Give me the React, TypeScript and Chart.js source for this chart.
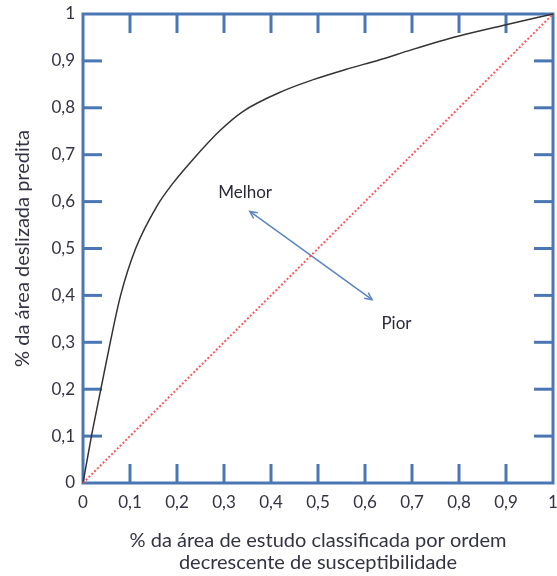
import { useEffect, useRef } from 'react';
import { Chart, registerables } from 'chart.js';

Chart.register(...registerables);

// ROC-like curve
const curveX = [0, 0.018, 0.038, 0.058, 0.08, 0.112, 0.157, 0.192, 0.234, 0.291, 0.34, 0.426, 0.49, 0.56, 0.63, 0.7, 0.8, 0.9, 1];
const curveY = [0, 0.1, 0.2, 0.3, 0.4, 0.5, 0.59, 0.64, 0.69, 0.751, 0.792, 0.836, 0.86, 0.882, 0.902, 0.924, 0.953, 0.977, 1];

// random-classifier diagonal
const diagX = [0, 1];
const diagY = [0, 1];

// double-headed arrow
const arrowX = [0.355, 0.615];
const arrowY = [0.579, 0.391];

// annotations
const annotText = ['Melhor', 'Pior'];
const annotX = [0.345, 0.667];
const annotY = [0.62, 0.34];

// ticks
const tickValues = [0, 0.1, 0.2, 0.3, 0.4, 0.5, 0.6, 0.7, 0.8, 0.9, 1];
const tickLabels = ['0', '0,1', '0,2', '0,3', '0,4', '0,5', '0,6', '0,7', '0,8', '0,9', '1'];

const xTitle = ['% da área de estudo classificada por ordem', 'decrescente de susceptibilidade'];
const yTitle = '% da área deslizada predita';

const BLUE = '#4a77b4';
const TEXT = '#333344';
const FONT = 'Lato, "Open Sans", sans-serif';

const framePlugin = {
  id: 'frame',
  beforeDatasetsDraw(chart: any) {
    const { ctx, chartArea, scales } = chart;
    const { left, right, top, bottom } = chartArea;
    const L = 19;
    ctx.save();
    ctx.strokeStyle = BLUE;
    ctx.lineWidth = 3;
    ctx.lineCap = 'butt';
    ctx.strokeRect(left, top, right - left, bottom - top);
    const seg = (a: number, b: number, c: number, d: number) => {
      ctx.beginPath();
      ctx.moveTo(a, b);
      ctx.lineTo(c, d);
      ctx.stroke();
    };
    tickValues.slice(1, -1).forEach((v) => {
      const px = scales.x.getPixelForValue(v);
      seg(px, bottom, px, bottom - L);
      seg(px, top, px, top + L);
      const py = scales.y.getPixelForValue(v);
      seg(left, py, left + L, py);
      seg(right, py, right - L, py);
    });
    ctx.restore();
  },
  afterDatasetsDraw(chart: any) {
    const { ctx, scales } = chart;
    ctx.save();
    const p0 = { x: scales.x.getPixelForValue(arrowX[0]), y: scales.y.getPixelForValue(arrowY[0]) };
    const p1 = { x: scales.x.getPixelForValue(arrowX[1]), y: scales.y.getPixelForValue(arrowY[1]) };
    ctx.strokeStyle = '#5b84c4';
    ctx.lineWidth = 1.5;
    const head = (tip: any, from: any) => {
      const ang = Math.atan2(tip.y - from.y, tip.x - from.x);
      const s = 8;
      ctx.beginPath();
      ctx.moveTo(tip.x - s * Math.cos(ang - 0.45), tip.y - s * Math.sin(ang - 0.45));
      ctx.lineTo(tip.x, tip.y);
      ctx.lineTo(tip.x - s * Math.cos(ang + 0.45), tip.y - s * Math.sin(ang + 0.45));
      ctx.stroke();
    };
    head(p0, p1);
    head(p1, p0);
    ctx.fillStyle = '#2a2a3a';
    ctx.font = '17px ' + FONT;
    ctx.textAlign = 'center';
    ctx.textBaseline = 'middle';
    annotText.forEach((t, i) => {
      ctx.fillText(t, scales.x.getPixelForValue(annotX[i]), scales.y.getPixelForValue(annotY[i]));
    });
    ctx.restore();
  },
};

export default function App() {
  const ref = useRef<HTMLCanvasElement>(null);
  useEffect(() => {
    if (!ref.current) return;
    const chart = new Chart(ref.current, {
      type: 'line',
      data: {
        datasets: [
          {
            data: diagX.map((x, i) => ({ x, y: diagY[i] })),
            borderColor: 'rgba(255,70,70,0.9)',
            borderWidth: 2,
            borderDash: [2, 2],
            pointRadius: 0,
            clip: false,
          },
          {
            data: curveX.map((x, i) => ({ x, y: curveY[i] })),
            borderColor: '#333333',
            borderWidth: 1.5,
            pointRadius: 0,
            cubicInterpolationMode: 'monotone',
            clip: false,
          },
          {
            data: arrowX.map((x, i) => ({ x, y: arrowY[i] })),
            borderColor: '#5b84c4',
            borderWidth: 1.5,
            pointRadius: 0,
            clip: false,
          },
        ],
      },
      options: {
        animation: false,
        responsive: false,
        maintainAspectRatio: false,
        layout: { padding: { left: 0, right: 4, top: 14, bottom: 0 }, autoPadding: false },
        plugins: { legend: { display: false }, tooltip: { enabled: false } },
        scales: {
          x: {
            type: 'linear',
            min: 0,
            max: 1,
            afterBuildTicks: (s: any) => {
              s.ticks = tickValues.map((v) => ({ value: v }));
            },
            afterFit: (s: any) => {
              s.height = 93;
              s.paddingLeft = 0;
              s.paddingRight = 0;
            },
            grid: { display: false, drawTicks: false },
            border: { display: false },
            ticks: {
              padding: 9,
              color: TEXT,
              font: { family: FONT, size: 17 },
              maxRotation: 0,
              autoSkip: false,
              callback: (_v: any, i: number) => tickLabels[i],
            },
            title: {
              display: true,
              text: xTitle,
              color: TEXT,
              font: { family: FONT, size: 20, lineHeight: 1.1 },
              padding: { top: 0, bottom: 2 },
            },
          },
          y: {
            type: 'linear',
            min: 0,
            max: 1,
            afterBuildTicks: (s: any) => {
              s.ticks = tickValues.map((v) => ({ value: v }));
            },
            afterFit: (s: any) => {
              s.width = 83;
              s.paddingTop = 0;
              s.paddingBottom = 0;
            },
            grid: { display: false, drawTicks: false },
            border: { display: false },
            ticks: {
              padding: 8,
              color: TEXT,
              font: { family: FONT, size: 17 },
              autoSkip: false,
              callback: (_v: any, i: number) => tickLabels[i],
            },
            title: {
              display: true,
              text: yTitle,
              color: TEXT,
              font: { family: FONT, size: 20 },
              padding: { top: 11, bottom: 0 },
            },
          },
        },
      },
      plugins: [framePlugin],
    } as any);
    return () => chart.destroy();
  }, []);
  return (
    <div style={{ position: 'fixed', left: 0, top: 0, width: 557, height: 576, background: '#fff' }}>
      <canvas ref={ref} width={557} height={576} style={{ width: 557, height: 576 }} />
    </div>
  );
}
